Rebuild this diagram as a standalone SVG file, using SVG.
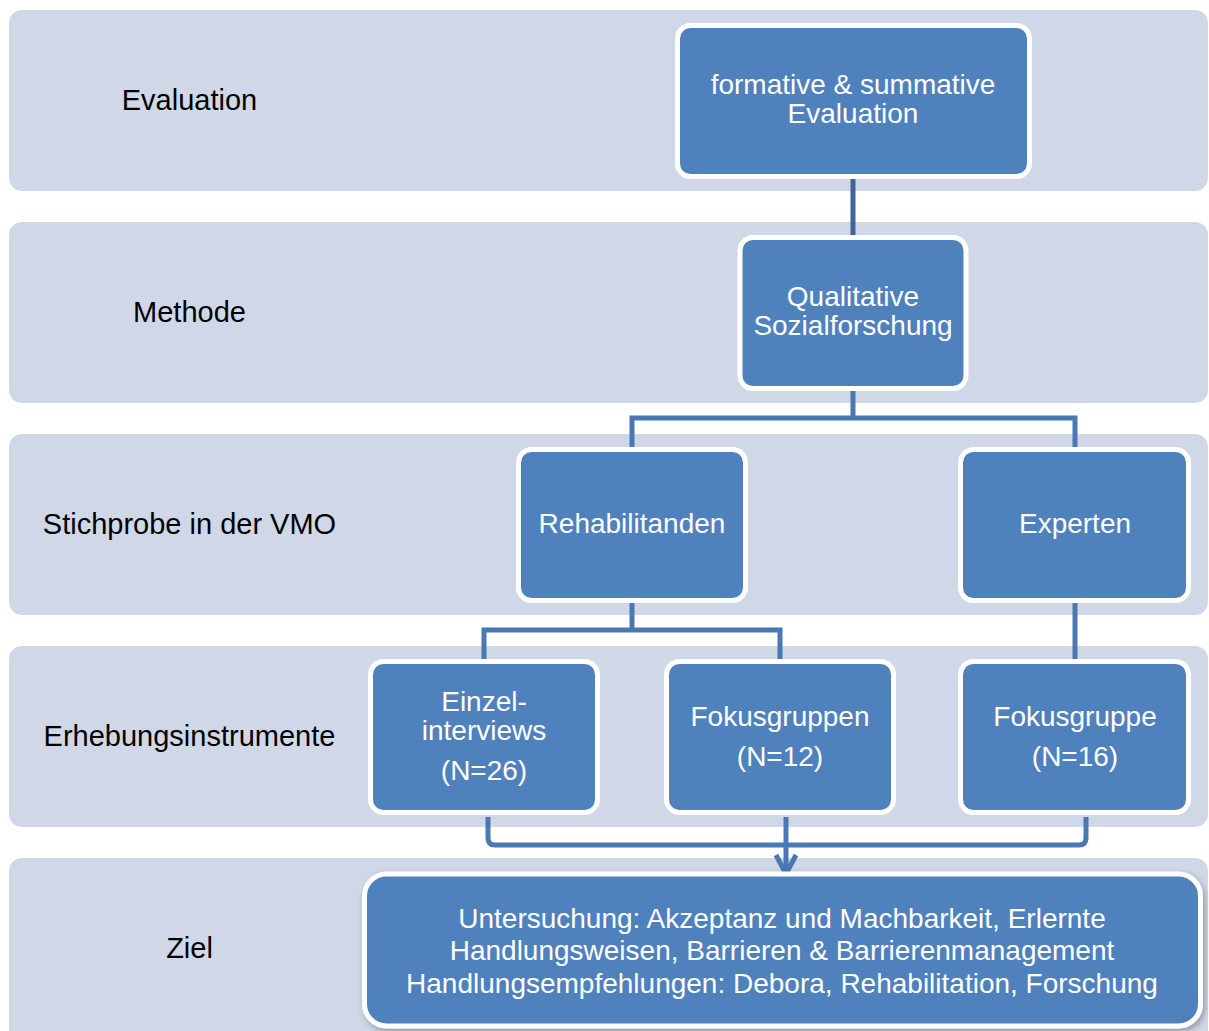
<svg xmlns="http://www.w3.org/2000/svg" width="1209" height="1031" viewBox="0 0 1209 1031">
  <style>
    .band { fill: #d0d8e8; }
    .lbl { font-family: "Liberation Sans", Arial, sans-serif; font-size: 29px; fill: #000; text-anchor: middle; }
    .node { fill: #4f81bd; stroke: #ffffff; stroke-width: 5; }
    .ntxt { font-family: "Liberation Sans", Arial, sans-serif; font-size: 28px; fill: #ffffff; text-anchor: middle; }
    .conn { fill: none; stroke: #4a78b2; stroke-width: 5; stroke-linejoin: miter; }
  </style>
  <defs>
    <filter id="shadow" x="-5%" y="-10%" width="110%" height="125%">
      <feDropShadow dx="2" dy="3" stdDeviation="3" flood-color="#000" flood-opacity="0.3"/>
    </filter>
  </defs>

  <rect width="1209" height="1031" fill="#ffffff"/>

  <!-- level bands with their labels -->
  <g id="band-evaluation">
    <rect class="band" x="9" y="10" width="1199" height="181" rx="13"/>
    <text class="lbl" x="189.5" y="110">Evaluation</text>
  </g>
  <g id="band-methode">
    <rect class="band" x="9" y="222" width="1199" height="181" rx="13"/>
    <text class="lbl" x="189.5" y="322">Methode</text>
  </g>
  <g id="band-stichprobe">
    <rect class="band" x="9" y="434" width="1199" height="181" rx="13"/>
    <text class="lbl" x="189.5" y="534">Stichprobe in der VMO</text>
  </g>
  <g id="band-erhebung">
    <rect class="band" x="9" y="646" width="1199" height="181" rx="13"/>
    <text class="lbl" x="189.5" y="746">Erhebungsinstrumente</text>
  </g>
  <g id="band-ziel">
    <rect class="band" x="9" y="858" width="1199" height="190" rx="13"/>
    <text class="lbl" x="189.5" y="958">Ziel</text>
  </g>

  <!-- connectors -->
  <g id="connectors">
    <line x1="853" y1="176" x2="853" y2="238" stroke="#3f6698" stroke-width="5"/>
    <path class="conn" d="M853 388 V418 H632 V450 M853 418 H1075 V450"/>
    <path class="conn" d="M632 601 V630 H484 V662 M632 630 H780 V662"/>
    <line class="conn" x1="1075" y1="601" x2="1075" y2="662"/>
    <path class="conn" d="M488 817 V838 Q488 845 495 845 H1079 Q1086 845 1086 838 V817" stroke-linejoin="round"/>
    <line class="conn" x1="786" y1="817" x2="786" y2="875"/>
    <path class="conn" d="M776 855 L786 874 L796 855" stroke-linejoin="miter"/>
  </g>

  <!-- nodes -->
  <g id="node-evaluation">
    <rect class="node" x="677.5" y="25.5" width="352" height="151" rx="13"/>
    <text class="ntxt" x="853" y="94">formative &amp; summative</text>
    <text class="ntxt" x="853" y="123">Evaluation</text>
  </g>
  <g id="node-qualitative">
    <rect class="node" x="740" y="237.5" width="226" height="151" rx="13"/>
    <text class="ntxt" x="853" y="306">Qualitative</text>
    <text class="ntxt" x="853" y="335">Sozialforschung</text>
  </g>
  <g id="node-rehabilitanden">
    <rect class="node" x="518.5" y="449.5" width="227" height="151" rx="13"/>
    <text class="ntxt" x="632" y="533">Rehabilitanden</text>
  </g>
  <g id="node-experten">
    <rect class="node" x="960.5" y="449.5" width="228" height="151" rx="13"/>
    <text class="ntxt" x="1075" y="533">Experten</text>
  </g>
  <g id="node-einzelinterviews">
    <rect class="node" x="370.5" y="661.5" width="227" height="151" rx="13"/>
    <text class="ntxt" x="484" y="711">Einzel-</text>
    <text class="ntxt" x="484" y="740">interviews</text>
    <text class="ntxt" x="484" y="780">(N=26)</text>
  </g>
  <g id="node-fokusgruppen">
    <rect class="node" x="666.5" y="661.5" width="227" height="151" rx="13"/>
    <text class="ntxt" x="780" y="726">Fokusgruppen</text>
    <text class="ntxt" x="780" y="766">(N=12)</text>
  </g>
  <g id="node-fokusgruppe">
    <rect class="node" x="960.5" y="661.5" width="228" height="151" rx="13"/>
    <text class="ntxt" x="1075" y="726">Fokusgruppe</text>
    <text class="ntxt" x="1075" y="766">(N=16)</text>
  </g>
  <g id="node-ziel">
    <rect class="node" x="364.5" y="874" width="836" height="152" rx="22" stroke-width="8" filter="url(#shadow)"/>
    <text class="ntxt" x="782" y="928">Untersuchung: Akzeptanz und Machbarkeit, Erlernte</text>
    <text class="ntxt" x="782" y="960">Handlungsweisen, Barrieren &amp; Barrierenmanagement</text>
    <text class="ntxt" x="782" y="993">Handlungsempfehlungen: Debora, Rehabilitation, Forschung</text>
  </g>
</svg>
